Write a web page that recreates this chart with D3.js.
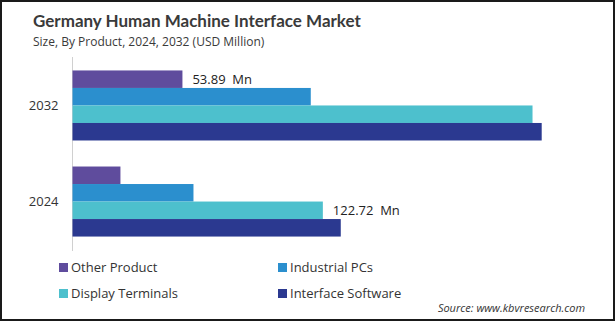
<!DOCTYPE html>
<html>
<head>
<meta charset="utf-8">
<script src="https://cdn.jsdelivr.net/npm/d3@7/dist/d3.min.js"></script>
<style>
  html, body { margin: 0; padding: 0; background: #fff; }
  svg { display: block; font-family: "Open Sans", "Noto Sans", sans-serif; }
</style>
</head>
<body>
<svg id="chart" width="616" height="322"></svg>
<script>
// Market size by product (USD Million)
const years = ["2032", "2024"];
const products = ["Other Product", "Industrial PCs", "Display Terminals", "Interface Software"];
const otherProduct = [53.89, 23.5];
const industrialPCs = [116.8, 59.3];
const displayTerminals = [225.5, 122.72];
const interfaceSoftware = [230.0, 131.5];
const colors = ["#5f4c9d", "#2b8fce", "#4dc0cd", "#2b3990"];
// value labels shown next to selected bars: [year index, product index]
const labelled = [[0, 0], [1, 2]];

const seriesValues = [otherProduct, industrialPCs, displayTerminals, interfaceSoftware];

const svg = d3.select("#chart");

// frame
svg.append("rect")
  .attr("x", 1).attr("y", 1).attr("width", 613).attr("height", 319)
  .attr("fill", "none").attr("stroke", "#1a1a1a").attr("stroke-width", 2);

// titles
svg.append("text")
  .attr("x", 33).attr("y", 27)
  .attr("font-family", "Lato, \"Open Sans\", sans-serif")
  .attr("font-size", 17).attr("font-weight", 700).attr("fill", "#3a3a3a")
  .text("Germany Human Machine Interface Market");
svg.append("text")
  .attr("x", 33).attr("y", 46)
  .attr("font-size", 12).attr("fill", "#3a3a3a")
  .text("Size, By Product, 2024, 2032 (USD Million)");

const x = d3.scaleLinear().domain([0, 250]).range([72.5, 582.5]);
const y = d3.scaleBand().domain(years).range([57, 250]).paddingInner(0.271).paddingOuter(0.14);
const yInner = d3.scaleBand().domain(products).range([0, y.bandwidth()]);

// category axis
const yAxis = d3.axisLeft(y).tickSize(0).tickPadding(14);
const gAxis = svg.append("g").attr("transform", `translate(${x(0)},0)`).call(yAxis);
gAxis.select(".domain").remove();
gAxis.selectAll("text").attr("font-size", 13).attr("fill", "#333")
  .attr("font-family", "\"Open Sans\", \"Noto Sans\", sans-serif");
svg.append("line")
  .attr("x1", x(0)).attr("x2", x(0)).attr("y1", 57).attr("y2", 251)
  .attr("stroke", "#d0d0d0").attr("stroke-width", 1);

// bars
const groups = svg.selectAll("g.year").data(years).join("g")
  .attr("class", "year")
  .attr("transform", d => `translate(0,${y(d)})`);

groups.selectAll("rect")
  .data((yr, i) => products.map((p, j) => ({ p, j, v: seriesValues[j][i] })))
  .join("rect")
  .attr("x", x(0))
  .attr("y", d => yInner(d.p))
  .attr("width", d => x(d.v) - x(0))
  .attr("height", yInner.bandwidth())
  .attr("fill", d => colors[d.j]);

// value labels
labelled.forEach(([yi, pi]) => {
  const v = seriesValues[pi][yi];
  svg.append("text")
    .attr("x", x(v) + 10)
    .attr("y", y(years[yi]) + yInner(products[pi]) + yInner.bandwidth() / 2)
    .attr("dy", "0.35em")
    .attr("font-size", 13).attr("fill", "#222")
    .attr("xml:space", "preserve")
    .text(d3.format(".2f")(v) + "  Mn");
});

// legend
const legendPos = [[59, 267.5], [278, 267.5], [59, 293.5], [278, 293.5]];
const legend = svg.selectAll("g.legend").data(products).join("g")
  .attr("class", "legend")
  .attr("transform", (d, i) => `translate(${legendPos[i][0]},${legendPos[i][1]})`);
legend.append("rect")
  .attr("x", 0).attr("y", -4.5).attr("width", 9).attr("height", 9)
  .attr("fill", (d, i) => colors[i]);
legend.append("text")
  .attr("x", 12).attr("y", 0).attr("dy", "0.35em")
  .attr("font-size", 13).attr("fill", "#333")
  .text(d => d);

// source
svg.append("text")
  .attr("x", 585).attr("y", 312)
  .attr("text-anchor", "end")
  .attr("font-size", 11).attr("font-style", "italic").attr("fill", "#333")
  .text("Source: www.kbvresearch.com");
</script>
</body>
</html>
